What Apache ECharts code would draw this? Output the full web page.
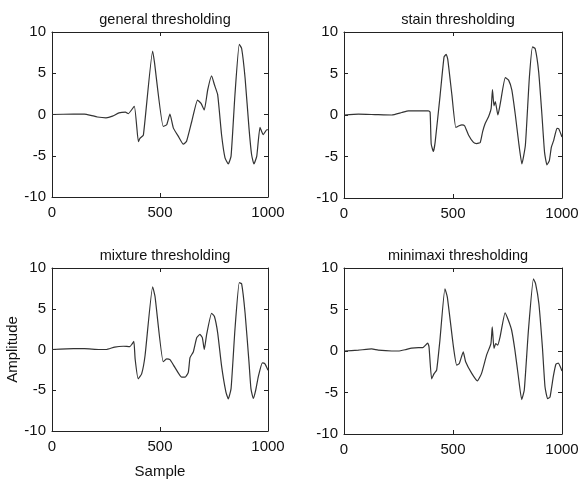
<!DOCTYPE html>
<html>
<head>
<meta charset="utf-8">
<script src="https://cdn.jsdelivr.net/npm/echarts@6/dist/echarts.min.js"></script>
<style>html,body{margin:0;padding:0;background:#fff}#c{width:586px;height:480px}</style>
</head>
<body>
<div id="c"></div>
<script>
// ---- data ----
var titles = ['general thresholding', 'stain thresholding', 'mixture thresholding', 'minimaxi thresholding'];
var xTicks = [0, 500, 1000];
var yTicks = [-10, -5, 0, 5, 10];

var generalX = [0,100,150,180,210,250,280,310,340,353,381,400,407,423,466,474,515,531,546,562,585,608,623,647,674,690,705,721,739,752,767,785,801,816,829,847,867,878,894,912,924,935,948,963,978,994,1000];
var generalY = [0,0.05,0.05,-0.1,-0.3,-0.4,-0.2,0.2,0.3,0.1,1.0,-3.3,-2.9,-2.5,7.7,6.4,-1.45,-1.25,0.05,-1.65,-2.65,-3.6,-3.25,-0.85,1.75,1.35,0.55,3.0,4.7,3.6,2.4,-2.45,-5.25,-6.0,-5.05,2.4,8.5,8.0,4.4,-1.65,-4.85,-6.0,-5.05,-1.55,-2.45,-1.85,-1.85];

var stainX = [0,66,142,219,265,296,387,395,400,410,418,441,459,469,476,495,513,528,541,553,571,594,609,625,636,648,663,675,681,688,694,706,717,740,755,770,786,801,816,832,850,865,877,893,908,920,931,942,951,962,977,985,1000];
var stainY = [0,0.1,0.05,0,0.3,0.5,0.5,0.35,-3.5,-4.4,-3.3,2.4,7.0,7.3,6.7,2.4,-1.5,-1.3,-1.2,-1.3,-2.4,-3.3,-3.45,-3.3,-2.0,-1.0,-0.2,0.8,3.05,1.1,1.6,0,1.4,4.5,4.2,3.0,0,-3.25,-5.9,-3.65,4.4,8.2,8.0,5.2,0,-4.5,-6.0,-5.5,-3.9,-3.05,-1.6,-1.65,-2.65];

var mixtureX = [0,100,150,220,250,290,330,360,370,379,385,399,415,431,466,477,515,531,546,569,600,616,631,639,654,670,685,696,705,716,739,752,767,785,805,816,829,847,867,878,894,912,921,932,943,955,974,986,1000];
var mixtureY = [0,0.1,0.1,0,0,0.3,0.4,0.35,0.65,1.0,-1.2,-3.6,-3.0,-0.7,7.7,6.5,-1.5,-1.15,-1.25,-2.2,-3.4,-3.4,-2.8,-1.0,-0.3,1.45,1.85,1.45,0,1.85,4.45,4.05,2.05,-2.0,-5.2,-6.05,-4.8,2.45,8.2,8.05,4.45,-1.55,-4.8,-6.0,-5.0,-3.35,-1.65,-1.75,-2.55];

var minimaxiX = [0,66,127,157,219,249,280,310,341,361,384,390,402,414,425,440,463,474,502,517,529,547,558,586,612,631,654,674,680,688,696,705,716,739,754,769,784,800,815,827,846,869,879,894,910,922,934,945,960,972,983,1000];
var minimaxiY = [0,0.1,0.25,0.1,0,0,0.15,0.35,0.4,0.4,0.95,0.5,-3.35,-2.7,-2.3,1.3,7.5,6.5,0.5,-1.7,-1.5,-0.1,-1.3,-2.7,-3.6,-2.7,-0.5,0.9,2.9,0.3,0.9,0.7,1.7,4.6,3.7,2.5,0.1,-3.1,-5.85,-4.7,2.5,8.7,8.1,5.7,0.5,-4.3,-5.75,-5.55,-3.1,-1.6,-1.45,-2.4];

var seriesX = [generalX, stainX, mixtureX, minimaxiX];
var seriesY = [generalY, stainY, mixtureY, minimaxiY];

// ---- layout ----
var grids = [
  {left: 52, top: 32, width: 216, height: 165},
  {left: 344, top: 32, width: 218, height: 166},
  {left: 52, top: 268, width: 216, height: 166},
  {left: 344, top: 268, width: 218, height: 166}
];
var FONT = '"Liberation Sans", Arial, sans-serif';
var axisCol = '#222';
var labelStyle = {color: '#111', fontSize: 15, fontFamily: FONT, formatter: function (v) { return String(v); }};

var chart = echarts.init(document.getElementById('c'), null, {renderer: 'canvas'});
var option = {
  backgroundColor: '#fff',
  animation: false,
  title: [], grid: [], xAxis: [], yAxis: [], series: []
};

grids.forEach(function (g, i) {
  option.grid.push({left: g.left, top: g.top, width: g.width, height: g.height, containLabel: false});
  option.title.push({
    text: titles[i], left: g.left + g.width / 2, top: g.top - 25, textAlign: 'center',
    textStyle: {fontSize: 14.5, fontWeight: 'normal', color: '#111', fontFamily: FONT}
  });
  var common = {
    type: 'value', gridIndex: i, min: xTicks[0], max: xTicks[xTicks.length - 1], interval: 500,
    splitLine: {show: false},
    axisLine: {show: true, onZero: false, lineStyle: {color: axisCol, width: 1}},
    axisTick: {show: true, inside: true, length: 4, lineStyle: {color: axisCol}}
  };
  option.xAxis.push(Object.assign({}, common, {
    position: 'bottom',
    axisLabel: Object.assign({margin: 8}, labelStyle),
    name: i === 2 ? 'Sample' : '', nameLocation: 'middle', nameGap: 33,
    nameTextStyle: {fontSize: 15, color: '#111', fontFamily: FONT}
  }));
  option.xAxis.push(Object.assign({}, common, {position: 'top', axisLabel: {show: false}}));
  var ycommon = {
    type: 'value', gridIndex: i, min: yTicks[0], max: yTicks[yTicks.length - 1], interval: 5,
    splitLine: {show: false},
    axisLine: {show: true, onZero: false, lineStyle: {color: axisCol, width: 1}},
    axisTick: {show: true, inside: true, length: 4, lineStyle: {color: axisCol}}
  };
  option.yAxis.push(Object.assign({}, ycommon, {
    position: 'left',
    axisLabel: Object.assign({margin: 6}, labelStyle),
    name: i === 2 ? 'Amplitude' : '', nameLocation: 'middle', nameGap: 32, nameRotate: 90,
    nameTextStyle: {fontSize: 15, color: '#111', fontFamily: FONT}
  }));
  option.yAxis.push(Object.assign({}, ycommon, {position: 'right', axisLabel: {show: false}}));

  var pts = seriesX[i].map(function (x, k) { return [x, seriesY[i][k]]; });
  option.series.push({
    type: 'line', xAxisIndex: i * 2, yAxisIndex: i * 2, data: pts,
    showSymbol: false, symbol: 'none', smooth: 0.15,
    lineStyle: {color: '#333', width: 1.2}
  });
});

chart.setOption(option);
</script>
</body>
</html>
